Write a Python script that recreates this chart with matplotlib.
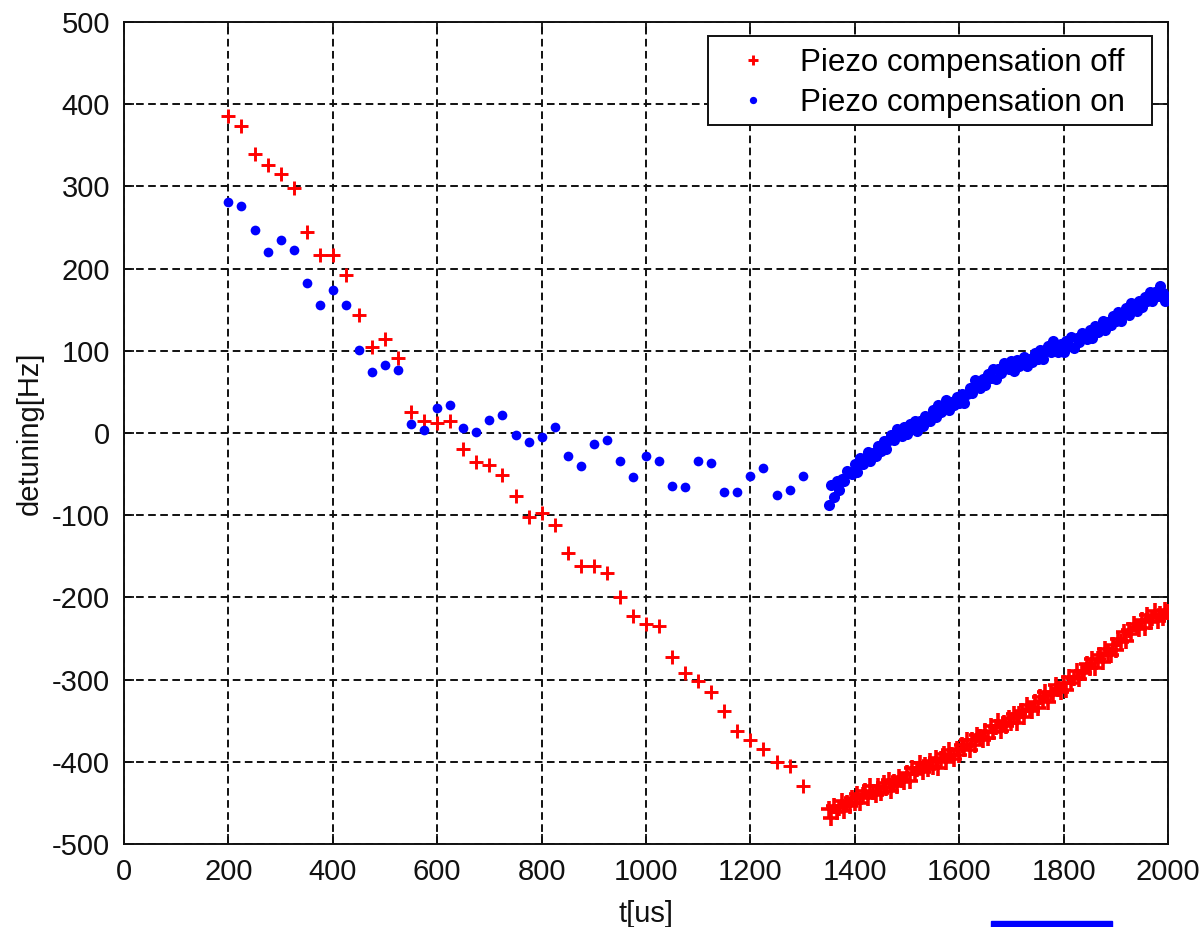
import numpy as np
import matplotlib
matplotlib.use("Agg")
import matplotlib.pyplot as plt
from matplotlib.patches import Rectangle

# ---------------- data ----------------
# sparse samples, every 25 us from 200 to 1300
t_sparse = list(range(200, 1301, 25))
off_sparse = [386, 374, 339, 326, 315, 298, 245, 216, 216, 192, 144, 105, 114, 91,
              25, 15, 12, 14, -19, -35, -39, -51, -77, -102, -97, -112, -146, -162,
              -162, -170, -199, -223, -232, -235, -273, -292, -302, -315, -338, -362,
              -373, -385, -400, -405, -430]
on_sparse = [281, 276, 247, 220, 235, 223, 183, 156, 174, 156, 101, 74, 83, 77,
             11, 4, 30, 34, 6, 1, 16, 22, -2, -11, -5, 7, -28, -40, -13, -8, -34,
             -54, -28, -34, -64, -66, -34, -37, -72, -72, -52, -43, -75, -69, -52]

# dense samples, every 5 us from 1350 to 2000
t_dense = list(range(1350, 2001, 5))
off_dense = [-458, -468, -454, -461, -456, -448, -460, -450, -454, -444,
             -450, -439, -450, -440, -435, -444, -430, -437, -440, -430,
             -438, -426, -432, -422, -435, -424, -429, -418, -422, -425,
             -414, -423, -408, -415, -409, -401, -413, -404, -409, -399,
             -406, -395, -407, -396, -391, -400, -386, -392, -396, -385,
             -392, -379, -384, -374, -386, -374, -379, -367, -370, -373,
             -362, -371, -357, -364, -358, -350, -362, -353, -357, -347,
             -353, -342, -353, -342, -338, -346, -331, -336, -338, -327,
             -334, -321, -326, -315, -327, -315, -319, -307, -311, -315,
             -304, -313, -297, -304, -298, -289, -299, -289, -292, -281,
             -286, -275, -286, -275, -270, -278, -263, -268, -270, -258,
             -264, -250, -254, -242, -253, -240, -245, -232, -236, -238,
             -227, -237, -222, -230, -225, -217, -229, -220, -225, -215,
             -218]
on_dense = [-87, -63, -78, -58, -69, -56, -59, -46, -49, -50,
            -38, -47, -31, -38, -31, -23, -34, -24, -28, -16,
            -22, -10, -20, -8, -2, -9, 5, -1, -4, 7,
            -1, 11, 5, 15, 2, 14, 9, 21, 18, 15,
            28, 19, 34, 26, 32, 40, 28, 38, 34, 44,
            37, 48, 37, 48, 55, 49, 64, 58, 55, 66,
            59, 72, 67, 78, 66, 78, 73, 85, 81, 78,
            87, 76, 89, 81, 86, 93, 81, 90, 86, 97,
            90, 101, 90, 101, 106, 98, 112, 104, 99, 108,
            99, 112, 106, 117, 104, 116, 111, 122, 118, 114,
            125, 116, 130, 123, 128, 136, 125, 135, 131, 142,
            136, 147, 136, 147, 152, 144, 158, 152, 149, 160,
            153, 166, 161, 172, 160, 172, 167, 179, 170, 161,
            166]

x_ticks = list(range(0, 2001, 200))
y_ticks = list(range(-500, 501, 100))
labels = ["Piezo compensation off", "Piezo compensation on"]

# ---------------- style ----------------
plt.rcParams['font.family'] = ['Liberation Sans', 'DejaVu Sans']
plt.rcParams['lines.scale_dashes'] = False
plt.rcParams['axes.unicode_minus'] = False

W, H = 1202, 927
fig = plt.figure(figsize=(W / 100, H / 100), dpi=100)
ax = fig.add_axes([124 / W, 1 - 844 / H, (1168 - 124) / W, (844 - 22) / H])

RED, BLUE = '#ff0000', '#0000ff'

# sparse part (carries the legend entries)
ax.plot(t_sparse, off_sparse, linestyle='none', marker='+', color=RED,
        markersize=10, markeredgewidth=2.1, label=labels[0], zorder=3)
ax.plot(t_sparse, on_sparse, linestyle='none', marker='o', color=BLUE,
        markersize=7, markeredgewidth=0, label=labels[1], zorder=3)
# dense part of the same series
ax.plot(t_dense, off_dense, linestyle='none', marker='+', color=RED,
        markersize=11, markeredgewidth=2.6, zorder=3)
ax.plot(t_dense, on_dense, linestyle='none', marker='o', color=BLUE,
        markersize=8, markeredgewidth=0, zorder=3)

ax.set_xlim(0, 2000)
ax.set_ylim(-500, 500)
ax.set_xticks(x_ticks)
ax.set_yticks(y_ticks)
ax.grid(True, color='#111111', linestyle=(0, (5.5, 3.2)), linewidth=1.4)
ax.set_axisbelow(True)

ax.tick_params(direction='in', length=7, width=1.3, top=True, right=True,
               labelsize=21, pad=10, colors='#111111')
for s in ax.spines.values():
    s.set_linewidth(1.4)
    s.set_color('#111111')

ax.set_xlabel('t[us]', fontsize=21, labelpad=10, color='#111111')
ax.set_ylabel('detuning[Hz]', fontsize=21, labelpad=6, color='#111111')

# legend box (frame drawn separately to get MATLAB-like padding)
box = Rectangle((708 / W, 1 - 125 / H), (1152 - 708) / W, (125 - 36) / H,
                transform=fig.transFigure, facecolor='white',
                edgecolor='#111111', linewidth=1.4, zorder=6, clip_on=False)
fig.add_artist(box)
leg = fig.legend(*ax.get_legend_handles_labels(),
                 loc='upper left', bbox_to_anchor=(726 / W, 1 - 39 / H),
                 bbox_transform=fig.transFigure, borderaxespad=0,
                 numpoints=1, fontsize=22.5, frameon=False,
                 handlelength=1.15, handletextpad=0.93,
                 borderpad=0.3, labelspacing=0.3, markerscale=0.75)
leg.set_zorder(7)

# blue strip at the bottom edge of the image
fig.patches.append(Rectangle((991 / W, 0), (1112 - 991) / W, 6 / H,
                             transform=fig.transFigure, color=BLUE))

fig.savefig('out.png', dpi=100)
